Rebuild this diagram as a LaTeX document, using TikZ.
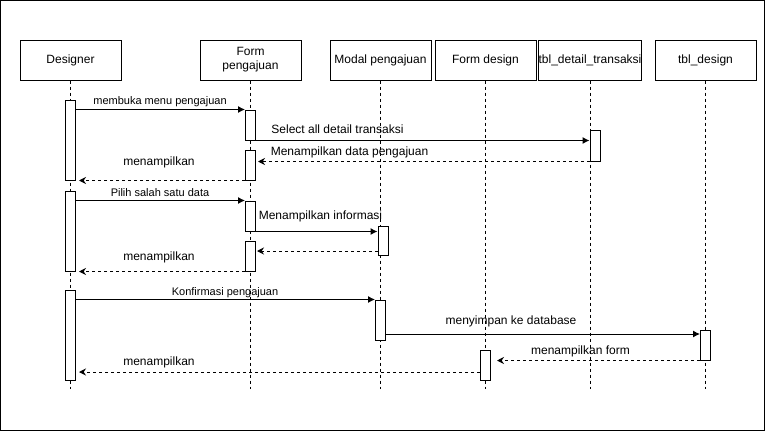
\documentclass[tikz,border=0pt]{standalone}
\usepackage{fontspec}
\setmainfont{Liberation Sans}
\usetikzlibrary{arrows.meta}

\begin{document}
\begin{tikzpicture}[x=1pt,y=-1pt,line width=1pt,
  head/.style={draw,minimum width=101pt,minimum height=40pt,inner sep=0pt,align=center,font=\fontsize{12}{14}\selectfont},
  act/.style={draw,fill=white,minimum width=10pt,inner sep=0pt},
  life/.style={dash pattern=on 3pt off 3pt},
  msg/.style={-{Latex[length=7pt,width=7pt]}},
  ret/.style={dash pattern=on 3pt off 3pt,-{Stealth[length=7pt,width=7pt]}},
  lbl/.style={inner sep=0pt,anchor=base,font=\fontsize{12}{14}\selectfont},
  slbl/.style={inner sep=0pt,anchor=base,font=\fontsize{11}{13}\selectfont}]
\useasboundingbox (0,0) rectangle (766,431);
\draw (0.5,0.5) rectangle (764.5,430.5);

\node[head] (dsg) at (70.5,60) {Designer};
\node[head] (fpj) at (250.5,60) {Form\\pengajuan};
\node[head] (mdl) at (380.5,60) {Modal pengajuan};
\node[head] (fds) at (485.5,60) {Form design};
\node[head,minimum width=100pt] (tdt) at (590,60) {tbl\_detail\_transaksi};
\node[head] (tds) at (705.5,60) {tbl\_design};

\coordinate (bot) at (0,389);
\foreach \h in {dsg,fpj,mdl,fds,tdt,tds}
  \draw[life] (\h.south) -- (\h.south |- bot);

\node[act,minimum height=80pt] (d1) at (70.5,140) {};
\node[act,minimum height=80pt] (d2) at (70.5,231) {};
\node[act,minimum height=90pt] (d3) at (70.5,335) {};
\node[act,minimum height=30pt] (fp1) at (250.5,125) {};
\node[act,minimum height=30pt] (fp2) at (250.5,165) {};
\node[act,minimum height=30pt] (fp3) at (250.5,216) {};
\node[act,minimum height=30pt] (fp4) at (250.5,256) {};
\node[act,minimum height=29pt] (m1) at (383,240.5) {};
\node[act,minimum height=40pt] (m2) at (380.5,320) {};
\node[act,minimum height=30pt] (fd1) at (485.5,365) {};
\node[act,minimum height=31pt] (tdt1) at (595,145.5) {};
\node[act,minimum height=30pt] (tb1) at (705,345) {};

\coordinate (r7) at (255,251);
\coordinate (r10) at (700,334);
\coordinate (r12) at (480,372);

\draw[msg] (d1.east |- fp1.north west) -- (fp1.north west);
\draw[msg] (fp1.south east) -- (fp1.south east -| tdt1.west);
\draw[ret,shorten >=2pt] (tdt1.south west) -- (tdt1.south west -| fp2.east);
\draw[ret,shorten >=3pt] (fp2.south west) -- (fp2.south west -| d1.east);
\draw[msg] (d2.east |- fp3.north west) -- (fp3.north west);
\draw[msg] (fp3.south east) -- (fp3.south east -| m1.west);
\draw[ret,shorten >=2pt] (r7 -| m1.west) -- (r7);
\draw[ret,shorten >=3pt] (fp4.south west) -- (fp4.south west -| d2.east);
\draw[msg] (d3.east |- m2.north west) -- (m2.north west);
\draw[msg] (r10 -| m2.east) -- (r10);
\draw[ret,shorten >=6pt] (tb1.south west) -- (tb1.south west -| fd1.east);
\draw[ret,shorten >=3pt] (r12) -- (r12 -| d3.east);

\node[slbl] (l1) at (160,104) {membuka menu pengajuan};
\node[lbl] (l2) at (337.5,133) {Select all detail transaksi};
\node[lbl] (l3) at (349.5,155) {Menampilkan data pengajuan};
\node[lbl] (l4) at (159,165) {menampilkan};
\node[slbl] (l5) at (160,196) {Pilih salah satu data};
\node[lbl] (l6) at (320.5,219.5) {Menampilkan informasi};
\node[lbl] (l8) at (159,260.5) {menampilkan};
\node[slbl] (l9) at (225,295) {Konfirmasi pengajuan};
\node[lbl] (l10) at (511,324.5) {menyimpan ke database};
\node[lbl] (l11) at (580.5,354.5) {menampilkan form};
\node[lbl] (l12) at (159,365) {menampilkan};
\end{tikzpicture}
\end{document}
